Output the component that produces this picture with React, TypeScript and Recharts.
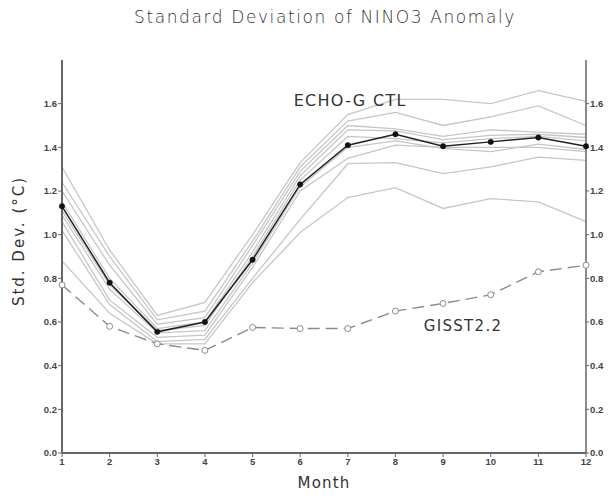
import React from 'react';
import { LineChart, Line, XAxis, YAxis, ReferenceDot } from 'recharts';

const months = [1, 2, 3, 4, 5, 6, 7, 8, 9, 10, 11, 12];
const yTicks = [0, 0.2, 0.4, 0.6, 0.8, 1.0, 1.2, 1.4, 1.6];

const echoMean = [1.13, 0.78, 0.555, 0.6, 0.885, 1.23, 1.41, 1.46, 1.405, 1.425, 1.445, 1.405];
const gisst = [0.77, 0.58, 0.5, 0.47, 0.575, 0.57, 0.57, 0.65, 0.685, 0.725, 0.83, 0.86];

const memberA = [1.31, 0.93, 0.63, 0.69, 1.0, 1.33, 1.55, 1.62, 1.62, 1.6, 1.66, 1.61];
const memberB = [1.24, 0.9, 0.61, 0.65, 0.97, 1.31, 1.52, 1.56, 1.5, 1.54, 1.59, 1.5];
const memberC = [1.2, 0.86, 0.59, 0.62, 0.95, 1.29, 1.5, 1.485, 1.45, 1.48, 1.47, 1.46];
const memberD = [1.15, 0.8, 0.57, 0.6, 0.92, 1.27, 1.48, 1.475, 1.435, 1.455, 1.46, 1.445];
const memberE = [1.11, 0.77, 0.56, 0.585, 0.9, 1.25, 1.45, 1.44, 1.42, 1.44, 1.45, 1.43];
const memberF = [1.09, 0.75, 0.55, 0.56, 0.87, 1.22, 1.4, 1.43, 1.395, 1.38, 1.415, 1.39];
const memberG = [1.06, 0.7, 0.53, 0.54, 0.85, 1.2, 1.35, 1.41, 1.4, 1.4, 1.4, 1.38];
const memberH = [1.02, 0.68, 0.51, 0.52, 0.8, 1.07, 1.325, 1.33, 1.28, 1.31, 1.355, 1.34];
const memberI = [0.88, 0.64, 0.5, 0.5, 0.78, 1.01, 1.17, 1.215, 1.12, 1.165, 1.15, 1.06];

const members = [memberA, memberB, memberC, memberD, memberE, memberF, memberG, memberH, memberI];
const memberKeys = members.map((_, i) => 'm' + i);

const data = months.map((m, i) => {
  const row: Record<string, number> = { month: m, mean: echoMean[i], gisst: gisst[i] };
  members.forEach((arr, k) => {
    row[memberKeys[k]] = arr[i];
  });
  return row;
});

const tickStyle = { fontSize: 9.5, fontWeight: 'bold' as const, fill: '#444', fontFamily: 'Liberation Sans, Arial, sans-serif' };
const axisColor = '#666';
const fmt = (v: number) => v.toFixed(1);

export default function App() {
  return (
    <div style={{ position: 'absolute', left: 0, top: 0, width: 608, height: 496, background: '#fff', fontFamily: 'DejaVu Sans, sans-serif' }}>
      <div style={{ position: 'absolute', left: 0, width: 650, top: 7, textAlign: 'center', fontSize: 17, letterSpacing: 1.6, color: '#333', fontFamily: 'DejaVu Sans, sans-serif', fontWeight: 300 }}>
        Standard Deviation of NINO3 Anomaly
      </div>
      <div style={{ position: 'absolute', left: 294, width: 60, top: 474, textAlign: 'center', fontSize: 15, letterSpacing: 1.2, color: '#333', fontFamily: 'DejaVu Sans, sans-serif' }}>
        Month
      </div>
      <div style={{ position: 'absolute', left: 19, top: 241, width: 0, height: 0 }}>
        <div style={{ position: 'absolute', transform: 'translate(-50%, -50%) rotate(-90deg)', whiteSpace: 'nowrap', fontSize: 15, letterSpacing: 2, color: '#333', fontFamily: 'DejaVu Sans, sans-serif' }}>
          Std. Dev. (°C)
        </div>
      </div>
      <LineChart width={608} height={496} data={data} margin={{ top: 60, right: 0, bottom: 13, left: 0 }} style={{ position: 'absolute', left: 0, top: 0 }}>
        <XAxis
          dataKey="month"
          type="number"
          domain={[1, 12]}
          ticks={months}
          interval={0}
          height={30}
          tick={tickStyle}
          tickSize={4}
          tickMargin={1}
          axisLine={{ stroke: axisColor, strokeWidth: 2 }}
          tickLine={{ stroke: axisColor }}
        />
        <XAxis
          xAxisId="top"
          dataKey="month"
          type="number"
          domain={[1, 12]}
          orientation="top"
          height={0}
          tick={false}
          tickLine={false}
          axisLine={{ stroke: axisColor, strokeWidth: 1.5 }}
        />
        <YAxis
          type="number"
          domain={[0, 1.8]}
          ticks={yTicks}
          interval={0}
          width={62}
          tick={tickStyle}
          tickFormatter={fmt}
          tickSize={4}
          tickMargin={1}
          axisLine={{ stroke: axisColor, strokeWidth: 2 }}
          tickLine={{ stroke: axisColor }}
        />
        <YAxis
          yAxisId="right"
          orientation="right"
          type="number"
          domain={[0, 1.8]}
          ticks={yTicks}
          interval={0}
          width={22}
          tick={tickStyle}
          tickFormatter={fmt}
          tickSize={3}
          tickMargin={1}
          axisLine={{ stroke: axisColor, strokeWidth: 1.5 }}
          tickLine={{ stroke: axisColor }}
        />
        <Line yAxisId="right" dataKey="mean" stroke="none" strokeOpacity={0} dot={false} activeDot={false} legendType="none" isAnimationActive={false} />
        {memberKeys.map((k) => (
          <Line key={k} dataKey={k} stroke="#c6c6c6" strokeWidth={1.3} dot={false} isAnimationActive={false} />
        ))}
        <Line
          dataKey="gisst"
          stroke="#8a8a8a"
          strokeWidth={1.4}
          strokeDasharray="12 6"
          dot={{ r: 3, fill: '#fff', stroke: '#8a8a8a', strokeWidth: 1, strokeDasharray: '' }}
          isAnimationActive={false}
        />
        <Line
          dataKey="mean"
          stroke="#222"
          strokeWidth={1.5}
          dot={{ r: 2.7, fill: '#111', stroke: '#111', strokeWidth: 0.5 }}
          isAnimationActive={false}
        />
        <ReferenceDot
          x={7.05}
          y={1.615}
          r={0}
          label={{ value: 'ECHO-G CTL', position: 'center', fontSize: 16, fill: '#333', letterSpacing: 1.3, fontFamily: 'DejaVu Sans, sans-serif' }}
        />
        <ReferenceDot
          x={9.42}
          y={0.584}
          r={0}
          label={{ value: 'GISST2.2', position: 'center', fontSize: 15, fill: '#333', letterSpacing: 1.3, fontFamily: 'DejaVu Sans, sans-serif' }}
        />
      </LineChart>
    </div>
  );
}
